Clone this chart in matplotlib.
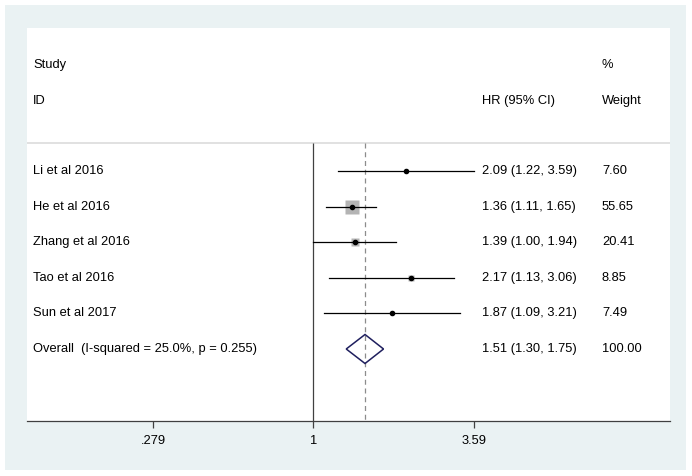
import numpy as np
import matplotlib
matplotlib.use("Agg")
import matplotlib.pyplot as plt
from matplotlib import transforms
from matplotlib.patches import Rectangle, Polygon

studies = ["Li et al 2016", "He et al 2016", "Zhang et al 2016", "Tao et al 2016", "Sun et al 2017"]
hr = [2.09, 1.36, 1.39, 2.17, 1.87]
lo = [1.22, 1.11, 1.00, 1.13, 1.09]
hi = [3.59, 1.65, 1.94, 3.06, 3.21]
weights = [7.60, 55.65, 20.41, 8.85, 7.49]
overall_label = "Overall  (I-squared = 25.0%, p = 0.255)"
overall_hr, overall_lo, overall_hi, overall_w = 1.51, 1.30, 1.75, 100.00
xticks = [0.279, 1, 3.59]
xtick_labels = [".279", "1", "3.59"]

plt.rcParams['font.family'] = ['Liberation Sans', 'DejaVu Sans']
FS = 9.3
W, H = 692, 476
fig = plt.figure(figsize=(W / 100, H / 100), dpi=100, facecolor="white")

# graph region background
fig.patches.append(Rectangle((5 / W, 1 - 470 / H), (686 - 5) / W, (470 - 5) / H,
                             transform=fig.transFigure, facecolor="#EAF2F3",
                             edgecolor="none", zorder=-1))

px_per_ln = 125.5
x_one = 313.3
left_px, right_px, top_px, bot_px = 27, 670, 28, 421
ax = fig.add_axes([left_px / W, 1 - bot_px / H, (right_px - left_px) / W, (bot_px - top_px) / H])
ax.set_zorder(1)
ax.set_facecolor("white")
ax.set_xscale("log")
ax.set_xlim(np.exp((left_px - x_one) / px_per_ln), np.exp((right_px - x_one) / px_per_ln))
row0_px, row_step = 171.0, 35.6
ax.set_ylim((bot_px - row0_px) / row_step, (top_px - row0_px) / row_step)

for s in ["top", "right", "left"]:
    ax.spines[s].set_visible(False)
ax.spines["bottom"].set_color("#404040")
ax.spines["bottom"].set_linewidth(0.9)
ax.set_yticks([])
ax.set_xticks(xticks)
ax.set_xticklabels(xtick_labels, fontsize=FS)
ax.xaxis.set_minor_locator(matplotlib.ticker.NullLocator())
ax.tick_params(axis="x", length=5, width=0.9, color="#404040", pad=5)

sep_y = (143 - row0_px) / row_step
ybot = ax.get_ylim()[0]
ax.axhline(sep_y, color="#dcdcdc", lw=1.2, zorder=1)
ax.plot([1, 1], [sep_y, ybot], color="#404040", lw=0.9, zorder=2, solid_capstyle="butt")
ax.plot([overall_hr, overall_hr], [sep_y, ybot], color="#8c8c8c", lw=0.9,
        ls=(0, (4, 3)), zorder=2)

for i, (h, l, u, w) in enumerate(zip(hr, lo, hi, weights)):
    side_pt = 13.3 * np.sqrt(w / 55.65) * 0.72
    ax.plot([h], [i], marker="s", ms=side_pt, mfc="#b4b4b4", mec="none", zorder=3)
    ax.plot([l, u], [i, i], color="black", lw=0.9, zorder=4)
    ax.plot([h], [i], marker="o", ms=3, color="black", zorder=5)

oy = len(studies)
hh = 14.5 / row_step
diamond = Polygon([[overall_lo, oy], [overall_hr, oy - hh], [overall_hi, oy], [overall_hr, oy + hh]],
                  closed=True, facecolor="none", edgecolor="#1f1f5e", lw=1.1, zorder=4)
ax.add_patch(diamond)

tr = transforms.blended_transform_factory(fig.transFigure, ax.transData)
col_study, col_hr, col_w = 33 / W, 482 / W, 602 / W
y_study = (65 - row0_px) / row_step
y_id = (101 - row0_px) / row_step
ax.text(col_study, y_study, "Study", transform=tr, fontsize=FS, va="center")
ax.text(col_study, y_id, "ID", transform=tr, fontsize=FS, va="center")
ax.text(col_hr, y_id, "HR (95% CI)", transform=tr, fontsize=FS, va="center")
ax.text(col_w, y_study, "%", transform=tr, fontsize=FS, va="center")
ax.text(col_w, y_id, "Weight", transform=tr, fontsize=FS, va="center")

for i, name in enumerate(studies):
    ax.text(col_study, i, name, transform=tr, fontsize=FS, va="center")
    ax.text(col_hr, i, f"{hr[i]:.2f} ({lo[i]:.2f}, {hi[i]:.2f})", transform=tr, fontsize=FS, va="center")
    ax.text(col_w, i, f"{weights[i]:.2f}", transform=tr, fontsize=FS, va="center")
ax.text(col_study, oy, overall_label, transform=tr, fontsize=FS, va="center")
ax.text(col_hr, oy, f"{overall_hr:.2f} ({overall_lo:.2f}, {overall_hi:.2f})", transform=tr, fontsize=FS, va="center")
ax.text(col_w, oy, f"{overall_w:.2f}", transform=tr, fontsize=FS, va="center")

fig.savefig("out.png", dpi=100, facecolor="white")
